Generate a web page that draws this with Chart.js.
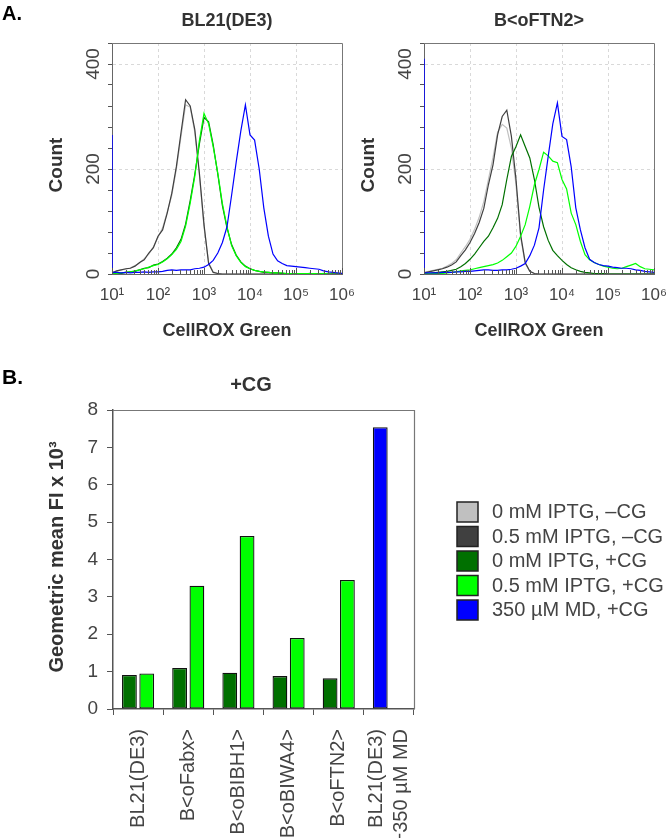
<!DOCTYPE html>
<html>
<head>
<meta charset="utf-8">
<script src="https://cdn.jsdelivr.net/npm/chart.js@4.4.1/dist/chart.umd.min.js"></script>
<style>
  html, body { margin: 0; padding: 0; background: #fff; }
  #page { position: relative; width: 666px; height: 838px; overflow: hidden; }
  canvas { position: absolute; }
</style>
</head>
<body>
<div id="page">
  <canvas id="histL" width="362" height="340" style="left:0;top:0"></canvas>
  <canvas id="histR" width="362" height="340" style="left:312px;top:0"></canvas>
  <canvas id="bars" width="666" height="498" style="left:0;top:340px"></canvas>
</div>
<script>
// ---- shared ----
const conditions = ['0 mM IPTG, \u2013CG', '0.5 mM IPTG, \u2013CG', '0 mM IPTG, +CG', '0.5 mM IPTG, +CG', '350 \u00b5M MD, +CG'];
const conditionColors = ['#c0c0c0', '#404040', '#007000', '#00ff00', '#0000ff'];

// ---- A. histograms: bin position as log10(CellROX Green), counts per bin ----
const binExp = [
  1.0, 1.1, 1.2, 1.3, 1.4, 1.5, 1.6, 1.7, 1.8, 1.9,
  2.0, 2.1, 2.2, 2.3, 2.4, 2.5, 2.6, 2.7, 2.8, 2.9,
  3.0, 3.1, 3.2, 3.3, 3.4, 3.5, 3.6, 3.7, 3.8, 3.9,
  4.0, 4.1, 4.2, 4.3, 4.4, 4.5, 4.6, 4.7, 4.8, 4.9,
  5.0, 5.1, 5.2, 5.3, 5.4, 5.5, 5.6, 5.7, 5.8, 5.9,
  6.0];

// BL21(DE3)
const bl21LightGray = [
  2, 5, 8, 9, 12, 16, 21, 29, 38, 52,
  70, 88, 118, 150, 200, 262, 322, 318, 270, 188,
  90, 22, 4, 1, 0, 0, 0, 0, 0, 0,
  0, 0, 0, 0, 0, 0, 0, 0, 0, 0,
  0, 0, 0, 0, 0, 0, 0, 0, 0, 0,
  0];
const bl21DarkGray = [
  2, 6, 8, 10, 11, 15, 22, 27, 40, 50,
  72, 84, 116, 154, 205, 269, 332, 320, 275, 192,
  94, 20, 3, 1, 0, 0, 0, 0, 0, 0,
  0, 0, 0, 0, 0, 0, 0, 0, 0, 0,
  0, 0, 0, 0, 0, 0, 0, 0, 0, 0,
  0];
const bl21DarkGreen = [
  0, 1, 1, 3, 4, 5, 8, 11, 12, 17,
  19, 24, 30, 38, 50, 66, 95, 140, 190, 248,
  298, 290, 246, 190, 130, 88, 56, 36, 23, 15,
  10, 7, 5, 3, 3, 2, 2, 1, 1, 1,
  1, 1, 0, 1, 0, 0, 0, 0, 0, 0,
  0];
const bl21LightGreen = [
  0, 1, 2, 3, 4, 6, 8, 10, 13, 16,
  18, 23, 29, 37, 47, 62, 91, 135, 186, 254,
  306, 286, 242, 192, 134, 90, 54, 35, 22, 14,
  10, 7, 5, 4, 3, 2, 2, 2, 1, 1,
  1, 1, 1, 1, 1, 0, 1, 0, 0, 0,
  0];
const bl21Blue = [
  3, 3, 2, 3, 2, 3, 3, 4, 3, 4,
  4, 5, 7, 8, 7, 8, 8, 8, 10, 11,
  13, 18, 26, 40, 60, 90, 150, 213, 272, 322,
  265, 255, 200, 126, 72, 38, 25, 20, 16, 15,
  14, 13, 12, 11, 10, 9, 6, 4, 3, 2,
  1];

// B<oFTN2>
const ftn2LightGray = [
  3, 5, 7, 9, 11, 15, 20, 27, 40, 52,
  66, 85, 108, 138, 180, 222, 270, 285, 278, 240,
  170, 70, 20, 5, 1, 0, 0, 0, 0, 0,
  0, 0, 0, 0, 0, 0, 0, 0, 0, 0,
  0, 0, 0, 0, 0, 0, 0, 0, 0, 0,
  0];
const ftn2DarkGray = [
  2, 4, 6, 8, 10, 13, 17, 23, 35, 46,
  60, 77, 98, 125, 170, 208, 265, 300, 312, 262,
  180, 75, 22, 5, 1, 0, 0, 0, 0, 0,
  0, 0, 0, 0, 0, 0, 0, 0, 0, 0,
  0, 0, 0, 0, 0, 0, 0, 0, 0, 0,
  0];
const ftn2DarkGreen = [
  0, 1, 2, 3, 4, 5, 7, 9, 14, 20,
  28, 38, 50, 62, 72, 88, 106, 132, 180, 224,
  243, 265, 243, 221, 180, 127, 90, 64, 45, 35,
  26, 18, 12, 8, 5, 3, 2, 1, 1, 1,
  0, 0, 0, 0, 0, 0, 0, 0, 0, 0,
  0];
const ftn2LightGreen = [
  0, 1, 1, 1, 1, 2, 3, 4, 6, 7,
  8, 10, 12, 14, 16, 18, 21, 26, 33, 40,
  53, 72, 94, 129, 170, 199, 232, 225, 215, 212,
  180, 162, 116, 94, 62, 37, 27, 22, 18, 15,
  13, 11, 10, 11, 14, 17, 20, 14, 10, 9,
  8];
const ftn2Blue = [
  2, 2, 2, 2, 3, 3, 3, 4, 4, 5,
  5, 6, 7, 8, 8, 7, 7, 8, 8, 9,
  11, 15, 20, 35, 55, 88, 160, 224, 286, 326,
  262, 256, 204, 126, 84, 50, 28, 22, 18, 16,
  15, 13, 12, 11, 11, 10, 8, 7, 5, 4,
  3];

// off-scale pile-up in the first channel of the MD (blue) sample: [BL21(DE3), B<oFTN2>]
const bluePileUp = [265, 410];

// ---- B. geometric mean FI x 10^3 ----
const strains = ['BL21(DE3)', 'B<oFabx>', 'B<oBIBH1>', 'B<oBIWA4>', 'B<oFTN2>', ['BL21(DE3)', '+350 \u00b5M MD']];
const fiIptg0 = [0.91, 1.10, 0.97, 0.88, 0.82, null];
const fiIptg05 = [0.95, 3.30, 4.63, 1.90, 3.45, null];
const fiMD = [null, null, null, null, null, 7.54];

const FONT = '"Liberation Sans", Arial, Helvetica, sans-serif';
const SUP = {1: '\u00b9', 2: '\u00b2', 3: '\u00b3', 4: '\u2074', 5: '\u2075', 6: '\u2076'};

function text(ctx, str, x, y, font, color, align, angle) {
  ctx.save();
  ctx.translate(x, y);
  if (angle) ctx.rotate(angle);
  ctx.font = font;
  ctx.fillStyle = color;
  ctx.textAlign = align || 'center';
  ctx.textBaseline = 'middle';
  ctx.fillText(str, 0, 0);
  ctx.restore();
}

// keep the plot box where it is, no room reserved for edge tick labels
function pinScale(size, prop) {
  return s => {
    s[prop] = size;
    s.paddingLeft = 0; s.paddingRight = 0; s.paddingTop = 0; s.paddingBottom = 0;
  };
}

const histDecor = {
  id: 'histDecor',
  afterDraw(chart, args, opts) {
    const {ctx, chartArea: a, scales: {x, y}} = chart;
    ctx.save();
    // top and right frame
    ctx.strokeStyle = '#777';
    ctx.lineWidth = 1;
    ctx.beginPath();
    ctx.moveTo(a.left, a.top + 0.5);
    ctx.lineTo(a.right + 0.5, a.top + 0.5);
    ctx.lineTo(a.right + 0.5, a.bottom);
    ctx.stroke();
    // log ticks pointing into the plot
    ctx.strokeStyle = '#555';
    for (let d = 1; d <= 6; d++) {
      for (let k = 1; k <= 9; k++) {
        if (d === 6 && k > 1) break;
        const px = Math.round(x.getPixelForValue(d + Math.log10(k))) + 0.5;
        const len = k === 1 ? 6 : 4;
        ctx.beginPath();
        ctx.moveTo(px, a.bottom);
        ctx.lineTo(px, a.bottom - len);
        ctx.stroke();
      }
    }
    ctx.restore();

    [0, 200, 400].forEach(v =>
      text(ctx, String(v), a.left - 18.5, y.getPixelForValue(v), '19px ' + FONT, '#444', 'center', -Math.PI / 2));
    text(ctx, 'Count', 57, 165, 'bold 19px ' + FONT, '#333', 'center', -Math.PI / 2);
    text(ctx, opts.title, (a.left + a.right) / 2, 21, 'bold 18px ' + FONT, '#333');
    text(ctx, 'CellROX Green', (a.left + a.right) / 2, 331, 'bold 18px ' + FONT, '#333');
    if (opts.panel) text(ctx, opts.panel, 2, 14, 'bold 20px ' + FONT, '#000', 'left');
  }
};

function drawHistogram(canvasId, title, panel, curves, pileUp) {
  const datasets = curves.map((c, i) => ({
    label: conditions[i],
    data: binExp.map((e, j) => ({x: e, y: c[j]})),
    borderColor: conditionColors[i],
    borderWidth: 1.2,
    pointRadius: 0,
    tension: 0,
    fill: false,
    order: curves.length - i + 1
  }));
  datasets.push({
    label: conditions[4] + ' (first channel)',
    data: [{x: binExp[0], y: 0}, {x: binExp[0], y: pileUp}],
    borderColor: conditionColors[4],
    borderWidth: 1.5,
    pointRadius: 0,
    order: 1
  });
  new Chart(document.getElementById(canvasId), {
    type: 'line',
    data: {datasets},
    options: {
      responsive: false,
      animation: false,
      layout: {padding: {left: 0, top: 43, right: 20, bottom: 0}},
      plugins: {
        legend: {display: false},
        tooltip: {enabled: false},
        histDecor: {title: title, panel: panel}
      },
      scales: {
        x: {
          type: 'linear', min: 1, max: 6,
          ticks: {stepSize: 1, callback: v => '10' + SUP[v], font: {family: FONT, size: 17}, color: '#444', padding: 11, maxRotation: 0},
          grid: {drawTicks: false, color: c => (c.tick && c.tick.value > 1 && c.tick.value < 6) ? '#d9d9d9' : 'transparent'},
          border: {color: '#666', dash: [3, 3]},
          afterFit: pinScale(66, 'height')
        },
        y: {
          min: 0, max: 440,
          ticks: {stepSize: 40, display: false},
          grid: {color: c => (c.tick && (c.tick.value === 200 || c.tick.value === 400)) ? '#d9d9d9' : 'transparent', tickColor: '#555', tickLength: 4},
          border: {color: '#666', dash: [3, 3]},
          afterFit: pinScale(112, 'width')
        }
      }
    },
    plugins: [histDecor]
  });
}

drawHistogram('histL', 'BL21(DE3)', 'A.', [bl21LightGray, bl21DarkGray, bl21DarkGreen, bl21LightGreen, bl21Blue], bluePileUp[0]);
drawHistogram('histR', 'B<oFTN2>', null, [ftn2LightGray, ftn2DarkGray, ftn2DarkGreen, ftn2LightGreen, ftn2Blue], bluePileUp[1]);

// ---- bar chart ----
const barDecor = {
  id: 'barDecor',
  afterDraw(chart) {
    const {ctx, chartArea: a, scales: {x}} = chart;
    ctx.save();
    ctx.strokeStyle = '#777';
    ctx.lineWidth = 1.2;
    ctx.beginPath();
    ctx.moveTo(a.left, a.top + 0.5);
    ctx.lineTo(a.right + 0.5, a.top + 0.5);
    ctx.lineTo(a.right + 0.5, a.bottom);
    ctx.stroke();
    ctx.restore();

    // rotated category labels, multi-line block centred on the category
    chart.data.labels.forEach((lab, i) => {
      const lines = [].concat(lab);
      const px = x.getPixelForTick(i);
      lines.forEach((ln, j) =>
        text(ctx, ln, px + (j - (lines.length - 1) / 2) * 25, a.bottom + 20, '20px ' + FONT, '#444', 'right', -Math.PI / 2));
    });

    text(ctx, 'B.', 2, 38, 'bold 21px ' + FONT, '#000', 'left');
    text(ctx, '+CG', 251, 45, 'bold 20px ' + FONT, '#333');
    text(ctx, 'Geometric mean FI x 10\u00b3', 57, 217, 'bold 20px ' + FONT, '#333', 'center', -Math.PI / 2);

    // legend
    chart.data.datasets.forEach((ds, i) => {
      const cy = 172 + i * 24.5;
      ctx.save();
      ctx.fillStyle = ds.backgroundColor;
      ctx.fillRect(457, cy - 10, 21, 20);
      ctx.strokeStyle = '#222';
      ctx.lineWidth = 1.5;
      ctx.strokeRect(457, cy - 10, 21, 20);
      ctx.restore();
      text(ctx, ds.label, 492, cy + 0.5, '20px ' + FONT, '#444', 'left');
    });
  }
};

new Chart(document.getElementById('bars'), {
  type: 'bar',
  data: {
    labels: strains,
    datasets: [
      {label: conditions[0], data: [], backgroundColor: conditionColors[0], stack: 'a'},
      {label: conditions[1], data: [], backgroundColor: conditionColors[1], stack: 'a'},
      {label: conditions[2], data: fiIptg0, backgroundColor: conditionColors[2], stack: 'a'},
      {label: conditions[3], data: fiIptg05, backgroundColor: conditionColors[3], stack: 'b'},
      {label: conditions[4], data: fiMD, backgroundColor: conditionColors[4], stack: 'a'}
    ].map(d => Object.assign(d, {
      borderColor: '#111', borderWidth: 1.3, borderSkipped: false,
      categoryPercentage: 0.69, barPercentage: 0.855
    }))
  },
  options: {
    responsive: false,
    animation: false,
    layout: {padding: {left: 0, top: 70, right: 252, bottom: 0}},
    plugins: {legend: {display: false}, tooltip: {enabled: false}},
    scales: {
      x: {
        ticks: {display: false},
        grid: {offset: true, drawOnChartArea: false, tickLength: 6, color: '#555'},
        border: {color: '#555', width: 1.5},
        afterFit: pinScale(129, 'height')
      },
      y: {
        min: 0, max: 8,
        ticks: {stepSize: 1, font: {family: FONT, size: 19}, color: '#444', padding: 9},
        grid: {drawOnChartArea: false, tickLength: 6, color: '#555'},
        border: {color: '#555', width: 1.5},
        afterFit: pinScale(113, 'width')
      }
    }
  },
  plugins: [barDecor]
});
</script>
</body>
</html>
